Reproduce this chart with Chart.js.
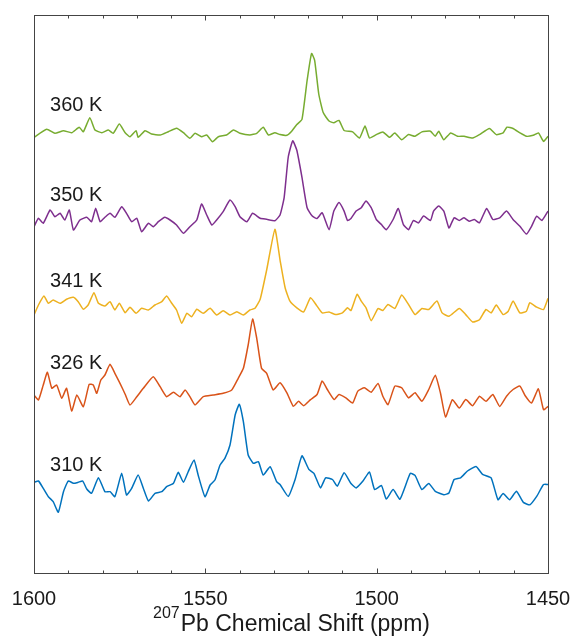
<!DOCTYPE html>
<html lang="en">
<head>
<meta charset="UTF-8">
<title>207Pb NMR spectra vs temperature</title>
<script src="https://cdn.jsdelivr.net/npm/chart.js"></script>
<style>
  html, body { margin: 0; padding: 0; background: #fff; }
</style>
</head>
<body>
<canvas id="nmr" width="571" height="641"></canvas>
<script>
// chemical shift (ppm) and intensity (arb. units, baseline 0)
const ppm360 = [1600,1596.3,1593.9,1591.4,1589.0,1586.8,1585.6,1583.7,1582.2,1580.2,1578.3,1576.9,1575.1,1573.4,1572.0,1570.2,1569.6,1567.6,1565.7,1563.2,1560.8,1558.4,1556.4,1554.5,1553.0,1551.1,1549.6,1547.9,1546.2,1543.8,1541.8,1539.9,1537.0,1535.0,1533.1,1531.6,1529.7,1528.2,1526.2,1524.8,1523.3,1521.8,1520.3,1519.0,1518.1,1516.9,1515.6,1513.9,1512.5,1511.0,1509.5,1507.0,1505.0,1503.4,1502.1,1500.1,1498.2,1496.2,1494.7,1492.7,1490.7,1488.8,1486.8,1484.3,1482.9,1481.9,1480.4,1478.4,1476.4,1474.5,1472.0,1470.0,1467.1,1465.1,1463.1,1462.0,1460.2,1458.2,1456.3,1454.3,1452.8,1451.3,1450];
const int360 = [-3.3,4.7,0.7,3.3,1.3,6.7,2.3,16.3,4,1.3,4,0.7,10,1.3,-2.7,3.3,-3.3,3.3,0,-1,2.3,5.7,1.3,-4.3,0.7,-2.7,-1,-7.7,-2.7,-1,4,0.7,-1,0.7,6.7,-1,1.3,-0.6,-1.3,2.8,9.5,14.6,53.5,80.5,73.7,40,21.4,13,11.2,13.6,3.5,2.1,-4,7.9,-4,-0.6,2.1,-3.3,1.1,-5.7,-0.6,-2.3,2.1,2.8,-2.3,2.8,-5.7,1.1,-2.3,-2.3,-4,-0.6,5.5,-0.6,1.1,6.8,5.5,1.1,-2.3,-1.3,1.1,-7.4,-2.3];

const ppm350 = [1600,1598.7,1597.3,1595.3,1593.9,1592.4,1591.0,1589.7,1588.5,1586.6,1584.6,1583.2,1582.0,1580.7,1579.3,1577.8,1576.4,1574.4,1573.0,1571.5,1570.0,1568.6,1566.6,1565.2,1563.7,1561.8,1560.3,1558.4,1556.4,1554.5,1552.5,1551.1,1549.6,1548.1,1546.7,1544.8,1542.8,1541.3,1539.9,1537.9,1536.2,1534.0,1532.1,1529.7,1528.2,1527.0,1525.8,1524.5,1523.3,1521.8,1520.3,1518.8,1517.4,1515.9,1513.9,1512.5,1511.0,1509.5,1508.5,1507.5,1506.0,1504.5,1503.1,1501.6,1500.1,1498.6,1497.2,1495.2,1493.7,1492.2,1490.7,1489.3,1487.8,1486.3,1484.3,1483.4,1481.9,1480.4,1478.9,1477.4,1475.9,1474.5,1473.0,1471.5,1470.0,1467.9,1466.1,1464.1,1462.1,1460.2,1458.2,1456.3,1454.8,1453.3,1451.8,1450];
const int350 = [-7.7,0.7,-4.3,9,2.3,5.7,-1,9,-11,-1,1.7,-2.7,10.7,-2.7,1.7,5.7,1.7,12.3,5.7,-2.7,0.7,-12.7,-4.3,-7.7,-2.7,1.7,-1,-6,-14.3,-7.7,-1,15,4,-6,-1,7.3,19,12.3,2.3,-2.7,5.7,0.7,-0.3,-1.7,4,21.4,62,78.2,68.7,41.7,11.3,2.9,0.5,6.2,-10.7,7.9,16.4,7.9,-1.5,0.5,7.9,11.3,18.1,11.3,-0.5,-5.6,-10.7,-0.5,10.6,-5.6,-10.7,-1.5,-3.9,2.9,-1.5,7.9,13,7.9,-9,1.2,-1.5,1.2,-2.2,-0.5,-3.9,10.6,-0.5,1.2,7.9,-0.5,-7.3,-15.1,-7.3,2.9,-1.5,7.9];

const ppm341 = [1600,1598.7,1597.1,1595.8,1594.4,1592.4,1590.5,1588.5,1587.1,1585.6,1584.2,1582.5,1581.2,1579.3,1577.8,1576.4,1575.1,1573.4,1572.0,1570.2,1568.6,1566.6,1564.7,1562.7,1561.3,1559.8,1558.4,1556.9,1555.4,1554.0,1552.5,1550.6,1548.6,1546.7,1544.8,1542.8,1540.8,1538.9,1537.0,1535.5,1534.0,1532.1,1529.7,1528.1,1526.7,1525.3,1523.3,1521.3,1519.3,1517.4,1515.9,1513.9,1512.0,1510.0,1508.5,1507.5,1505.7,1504.5,1503.1,1501.6,1499.6,1498.2,1496.7,1494.7,1492.7,1490.7,1488.8,1486.8,1484.8,1482.4,1480.9,1478.9,1475.9,1474.0,1472.0,1470.0,1468.1,1466.6,1465.1,1463.1,1461.6,1460.2,1458.2,1456.3,1455.3,1453.3,1451.3,1450];
const int341 = [-6,4,13,5.7,9,5.7,9.7,11.7,7.3,-0.3,4,16.3,5.7,3,7.3,-1,5.7,-3.7,1.7,-4.3,0.7,-1,4,7.3,13,5.7,-1,-14.3,-4.3,-7.7,-0.3,-4.3,0.7,-6,-1.7,-6,-2.7,-6,-1,0.7,9.7,39,79.7,47,21,7.9,1.2,-2.9,11.3,2.9,-3.9,-2.9,-5.6,-3.9,1.2,-1.5,14.7,7.9,1.2,-11.7,0.5,-1.5,4.5,0.5,14,4.5,-5.6,0.5,-0.5,7.9,-3.9,-7.3,0.5,-5.6,-13,-10.7,-0.5,-3.9,3.9,-5.6,-2.2,7.9,-3.9,-2.2,6.2,1.8,-0.5,10.6];

const ppm326 = [1600,1598.7,1597.3,1596.1,1594.8,1593.4,1591.9,1590.5,1589.0,1587.5,1585.6,1583.9,1582.7,1581.7,1580.5,1579.3,1577.8,1576.4,1574.9,1573.4,1572.0,1570.0,1568.1,1565.2,1563.2,1561.3,1559.3,1557.4,1555.9,1554.5,1553.0,1550.6,1547.7,1544.8,1542.3,1540.4,1538.9,1537.5,1536.2,1535.0,1533.6,1532.1,1530.2,1528.2,1526.2,1524.3,1522.8,1521.3,1519.3,1517.4,1515.9,1514.4,1512.4,1511.0,1509.0,1507.0,1505.5,1503.6,1501.6,1499.6,1498.2,1496.7,1494.7,1492.7,1490.7,1488.8,1486.8,1484.8,1482.9,1481.4,1479.9,1477.9,1475.9,1474.0,1472.0,1470.0,1468.1,1466.1,1464.1,1462.1,1460.2,1458.2,1456.7,1454.8,1452.8,1451.3,1450];
const int326 = [0,-5,10,22.7,6.7,10,-3.3,6.7,-16,0,-11.7,10.7,10,1.7,15,20,30.7,21.7,11.7,0.7,-10,-1.7,6.7,18.3,8.3,-1.7,2.7,-1.7,5,-1.7,-10,-1.7,0,1.7,5,16.7,26.7,50,76,56.7,26.7,21.7,5,12.3,2.2,-11.4,-6.3,-10.7,-4.6,0.5,14,5.5,-4.6,0.5,-2.9,-8,3.9,7.2,2.8,11.6,-1.2,-9.7,8.9,7.2,-2.9,2.2,-6.3,5.5,19.7,2.2,-22,-4.6,-13,-4.6,-10.7,-1.2,-6.3,0.5,-11.4,-1.2,5.5,8.9,-0.5,-8,6.2,-14.7,-11.4];

const ppm310 = [1600,1598.7,1597.3,1595.8,1594.4,1592.9,1591.4,1590.0,1588.5,1587.1,1585.8,1584.6,1583.2,1581.2,1579.3,1577.8,1576.4,1574.4,1573.0,1571.5,1569.6,1568.1,1566.6,1564.7,1562.7,1561.3,1559.3,1557.9,1556.4,1555.0,1553.3,1552.1,1550.1,1548.6,1547.2,1545.7,1544.3,1542.8,1541.3,1540.1,1538.9,1537.5,1536.0,1534.5,1533.1,1531.1,1529.2,1528.2,1525.8,1523.8,1521.8,1519.8,1518.3,1516.4,1514.9,1512.9,1511.5,1509.5,1507.5,1506.0,1504.0,1502.1,1500.6,1498.6,1497.2,1495.2,1493.2,1490.2,1488.8,1486.8,1484.8,1482.9,1480.4,1478.9,1477.4,1475.5,1473.5,1471.0,1469.1,1466.6,1464.6,1463.1,1461.2,1459.2,1457.2,1455.3,1453.3,1451.3,1450];
const int310 = [1.7,3,-4.3,-12.7,-17.7,-28.3,-7.7,3,0.7,1.7,3,-5,-9.3,6.3,-7.7,-7.7,-12.7,10.7,-11,-4.3,9,-4.3,-17,-9.3,-7.7,-2.7,0.7,11.7,1.7,12.3,24,9,-12.7,-1,4,19,25.7,39,69,79.7,62.3,29,20.7,22.3,9,17.3,2.3,-0.5,-12.4,4.5,28.2,14.7,10.6,-3.9,6.2,4.5,-2.2,11.3,0.5,-3.9,2.9,12,-5.6,-1.5,-15.1,-5.6,-15.1,10.6,8.6,-5.6,0.5,-7.3,-10.7,-9,4.5,6.2,13,17.4,9.6,6.2,-15.7,-9.6,-15.7,-7.3,-18.4,-20.8,-12.4,-0.5,-0.5];

// stacking, top trace first
const tempLabels = ['360 K', '350 K', '341 K', '326 K', '310 K'];
const offsets = [439, 354, 264, 178, 89];
const labelLevels = [468, 378, 292, 210, 108];
const xTicks = [1600, 1550, 1500, 1450];

const shifts = [ppm360, ppm350, ppm341, ppm326, ppm310];
const intensities = [int360, int350, int341, int326, int310];
const colors = ['#77AC30', '#7E2F8E', '#EDB120', '#D95319', '#0072BD'];

const FONT = '"Liberation Sans", Arial, Helvetica, sans-serif';

const datasets = shifts.map((xs, i) => ({
    label: tempLabels[i],
    data: xs.map((p, j) => ({ x: p, y: intensities[i][j] + offsets[i] })),
    borderColor: colors[i],
    borderWidth: 1.5,
    pointRadius: 0,
    tension: 0.15,
    fill: false
}));

// box, inward ticks on top and bottom, trace labels, axis title
const frame = {
    id: 'frame',
    afterDraw(chart) {
        const { ctx, chartArea: a, scales: { x, y } } = chart;
        const L = Math.round(a.left) + 0.5, R = Math.round(a.right) + 0.5;
        const T = Math.round(a.top) + 0.5, B = Math.round(a.bottom) + 0.5;
        ctx.save();
        ctx.strokeStyle = '#444';
        ctx.lineWidth = 1;
        ctx.strokeRect(L, T, R - L, B - T);
        ctx.beginPath();
        for (let v = 1460; v < 1600; v += 10) {
            const px = Math.round(x.getPixelForValue(v)) + 0.5;
            const len = v % 50 === 0 ? 5 : 3;
            ctx.moveTo(px, B); ctx.lineTo(px, B - len);
            ctx.moveTo(px, T); ctx.lineTo(px, T + len);
        }
        ctx.stroke();

        ctx.fillStyle = '#1a1a1a';
        ctx.font = '20px ' + FONT;
        ctx.textAlign = 'left';
        ctx.textBaseline = 'middle';
        tempLabels.forEach((t, i) => {
            ctx.fillText(t, x.getPixelForValue(1595.3), y.getPixelForValue(labelLevels[i]));
        });

        // 207Pb Chemical Shift (ppm)
        const sup = '207', main = 'Pb Chemical Shift (ppm)';
        ctx.font = '16px ' + FONT;
        const ws = ctx.measureText(sup).width;
        ctx.font = '23px ' + FONT;
        const wm = ctx.measureText(main).width;
        const cx = (a.left + a.right) / 2;
        const x0 = cx - (ws + wm) / 2;
        ctx.textBaseline = 'alphabetic';
        ctx.font = '16px ' + FONT;
        ctx.fillText(sup, x0, a.bottom + 45);
        ctx.font = '23px ' + FONT;
        ctx.fillText(main, x0 + ws + 1, a.bottom + 58);
        ctx.restore();
    }
};

new Chart(document.getElementById('nmr'), {
    type: 'line',
    data: { datasets },
    options: {
        responsive: false,
        animation: false,
        layout: { padding: { left: 34, right: 23, top: 15, bottom: 0 } },
        plugins: { legend: { display: false }, tooltip: { enabled: false } },
        scales: {
            x: {
                type: 'linear',
                reverse: true,
                min: 1450,
                max: 1600,
                grid: { display: false, drawTicks: false },
                border: { display: false },
                afterBuildTicks: s => { s.ticks = xTicks.map(v => ({ value: v })); },
                afterFit: s => { s.height = 68; s.paddingLeft = 0; s.paddingRight = 0; },
                ticks: {
                    padding: 14,
                    color: '#1a1a1a',
                    maxRotation: 0,
                    autoSkip: false,
                    font: { family: FONT, size: 20 },
                    callback: v => String(v)
                }
            },
            y: { display: false, min: 0, max: 558 }
        }
    },
    plugins: [frame]
});
</script>
</body>
</html>
